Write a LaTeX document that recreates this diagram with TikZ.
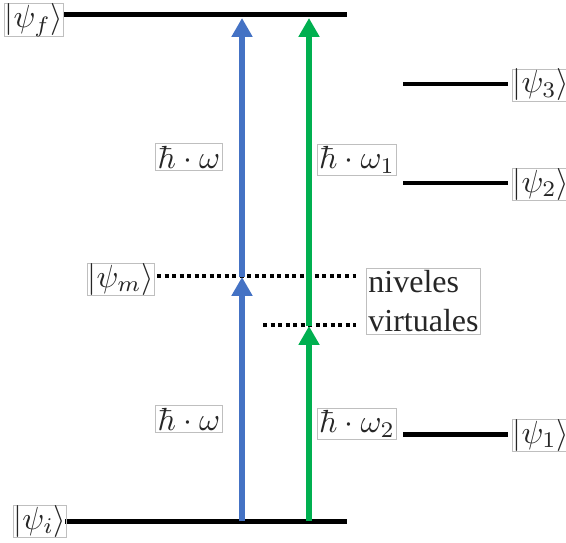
\documentclass[tikz,border=0pt]{standalone}
\usepackage{fontspec}
\newfontfamily\tnr{Liberation Serif}
\usetikzlibrary{arrows.meta}
\definecolor{myblue}{HTML}{4472C4}
\definecolor{mygreen}{HTML}{00B050}
\tikzset{
  lvl/.style={line width=1.56pt},
  virt/.style={line width=1.25pt, dash pattern=on 1.25pt off 1.1pt},
  lab/.style={draw=black!25, line width=0.3pt, text=black!85, inner sep=0.6pt},
  ket/.style={lab, inner xsep=0pt, inner ysep=0pt},
  transarrow/.style={line width=1.9pt, -{Triangle[width=6.25pt,length=5.9pt]}},
}
\begin{document}
\begin{tikzpicture}[x=0.3125pt,y=-0.3125pt]
\useasboundingbox (0,0) rectangle (566,542);
% levels
\coordinate (fL) at (64,15); \coordinate (fR) at (347,15);
\coordinate (iL) at (65,521); \coordinate (iR) at (347,521);
\coordinate (mL) at (157,276); \coordinate (mR) at (356,276);
\coordinate (vL) at (263,325); \coordinate (vR) at (356,325);
\coordinate (p3L) at (403,84); \coordinate (p3R) at (508,84);
\coordinate (p2L) at (403,183); \coordinate (p2R) at (508,183);
\coordinate (p1L) at (403,434); \coordinate (p1R) at (508,434);
\draw[lvl] (fL) -- (fR);
\draw[lvl] (iL) -- (iR);
\draw[lvl] (p3L) -- (p3R);
\draw[lvl] (p2L) -- (p2R);
\draw[lvl] (p1L) -- (p1R);
\draw[virt] (mL) -- (mR);
\draw[virt] (vL) -- (vR);
% arrows
\coordinate (b0) at (242,521); \coordinate (b1) at (242,277); \coordinate (b2) at (242,18);
\coordinate (g0) at (309,521); \coordinate (g1) at (309,326); \coordinate (g2) at (309,18);
\draw[transarrow, myblue] (b0) -- (b1);
\draw[transarrow, myblue] (b1) -- (b2);
\draw[transarrow, mygreen] (g0) -- (g1);
\draw[transarrow, mygreen] (g1) -- (g2);
% labels
\node[ket] (lf) at (34,20) {$|\psi_f\rangle$};
\node[ket] (li) at (40,521) {$|\psi_i\rangle$};
\node[ket] (lm) at (121,279) {$|\psi_m\rangle$};
\node[ket] (l3) at (541,85) {$|\psi_3\rangle$};
\node[ket] (l2) at (541,184) {$|\psi_2\rangle$};
\node[ket] (l1) at (541,435) {$|\psi_1\rangle$};
\node[lab] (w1) at (189,157) {$\hbar\cdot\omega$};
\node[lab] (w2) at (189,419) {$\hbar\cdot\omega$};
\node[lab] (w3) at (357,160) {$\hbar\cdot\omega_1$};
\node[lab] (w4) at (357,424) {$\hbar\cdot\omega_2$};
\node[lab, align=left, anchor=north west, font=\tnr, inner sep=0.6pt] (nv) at (366,268) {niveles\\[0.3pt]virtuales};
\end{tikzpicture}
\end{document}
